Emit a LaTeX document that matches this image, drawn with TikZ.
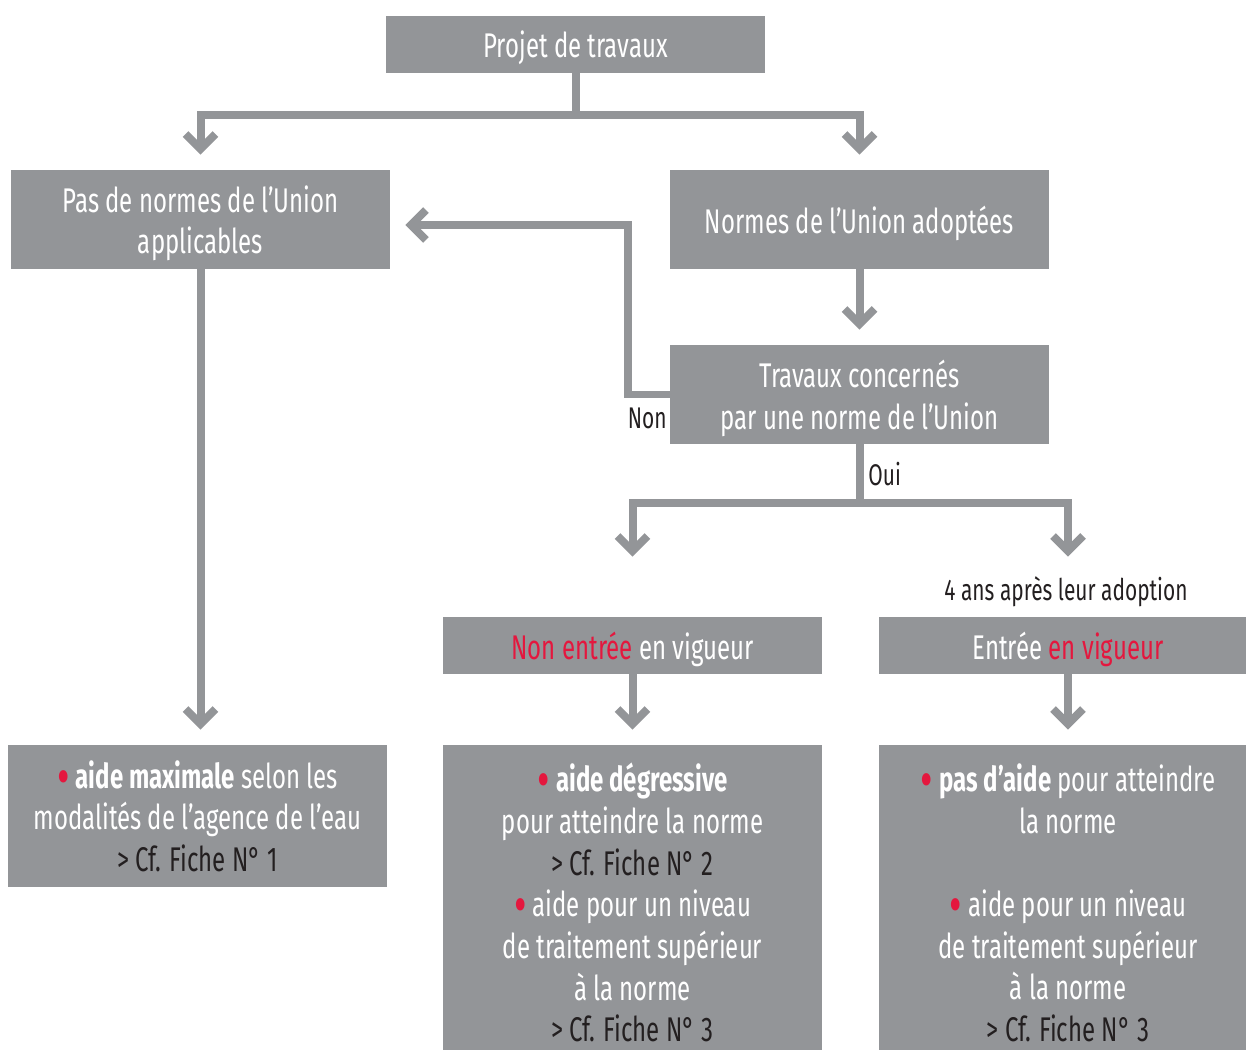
\documentclass[tikz,border=0pt]{standalone}
\usepackage{fontspec}
\setmainfont{Fira Sans}[FakeStretch=0.70]
\usetikzlibrary{arrows.meta}

\definecolor{boxgray}{HTML}{939598}
\definecolor{alertred}{HTML}{E4173E}
\definecolor{inkblack}{HTML}{231F20}

\newcommand{\redbullet}{\textcolor{alertred}{\smash{\raisebox{-0.2em}{\scalebox{1.6}{•}}}}\ }
\newcommand{\ficheref}[1]{\textcolor{inkblack}{> Cf. Fiche N° #1}}

\tikzset{
		box/.style={fill=boxgray, text=white, align=center, inner sep=0pt, minimum width=7.58cm, text depth=0pt, font=\fontsize{19.5pt}{23.7pt}\selectfont},
		link/.style={boxgray, line width=0.16cm, line join=miter},
		arrow/.style={link, -{Straight Barb[length=0.3cm, width=0.6cm, line width=0.16cm]}, shorten >=0.3cm},
		note/.style={text=inkblack, inner sep=0pt, font=\fontsize{17pt}{20pt}\selectfont}
	}

\begin{document}
\begin{tikzpicture}[x=0.02cm, y=-0.02cm]
	
	\useasboundingbox (0,0) rectangle (1246,1050);
	
	\node (projet) at (575.5,44.5) [box, minimum height=1.14cm] {Projet de travaux};
	
	\node (pasnormes) at (200.5,219.5) [box, minimum height=1.98cm] {Pas de normes de l’Union\\ applicables};
	\node (normes) at (859.5,219.5) [box, minimum height=1.98cm] {Normes de l’Union adoptées};
	\node (travaux) at (859.5,394.5) [box, minimum height=1.98cm] {Travaux concernés\\ par une norme de l’Union};
	
	\node (nonentree) at (632.5,645.5) [box, minimum height=1.14cm] {\textcolor{alertred}{Non entrée} en vigueur};
	\node (entree) at (1068,645.5) [box, minimum height=1.14cm] {Entrée \textcolor{alertred}{en vigueur}};
	
	\node (maximale) at (197.5,816) [box, minimum height=2.84cm] {\redbullet\textbf{aide maximale} selon les\\ modalités de l’agence de l’eau\\ \ficheref{1}};
	\node (degressive) at (632.5,902.5) [box, minimum height=6.3cm] {\redbullet\textbf{aide dégressive}\\ pour atteindre la norme\\ \ficheref{2}\\ \redbullet aide pour un niveau\\ de traitement supérieur\\ à la norme\\ \ficheref{3}};
	\node (pasaide) at (1068,902.5) [box, minimum height=6.3cm] {\redbullet\textbf{pas d’aide} pour atteindre\\ la norme\\ \strut\\ \redbullet aide pour un niveau\\ de traitement supérieur\\ à la norme\\ \ficheref{3}};
	
	\coordinate (fork1) at (575.5,115);
	\coordinate (loop) at (628,225);
	\coordinate (fork2) at (859.5,503);
	
	\draw [link] (projet) -- (fork1);
	\draw [arrow] (fork1) -| (pasnormes);
	\draw [arrow] (fork1) -| (normes);
	\draw [arrow] (normes) -- (travaux);
	\draw [arrow] (travaux.west) -| (loop) -- (loop -| pasnormes.east);
	\draw [arrow] (pasnormes.south) -- (pasnormes.south |- maximale.north);
	\draw [link] (travaux) -- (fork2);
	\draw [arrow, shorten >=1.2cm] (fork2) -| (nonentree);
	\draw [arrow, shorten >=1.2cm] (fork2) -| (entree);
	\draw [arrow] (nonentree) -- (degressive);
	\draw [arrow] (entree) -- (pasaide);
	
	\node (non) at (667,418) [note, anchor=east] {Non};
	\node (oui) at (868,474) [note, anchor=west] {Oui};
	\node (delai) at (1066,592) [note] {4 ans après leur adoption};
	
\end{tikzpicture}
\end{document}
